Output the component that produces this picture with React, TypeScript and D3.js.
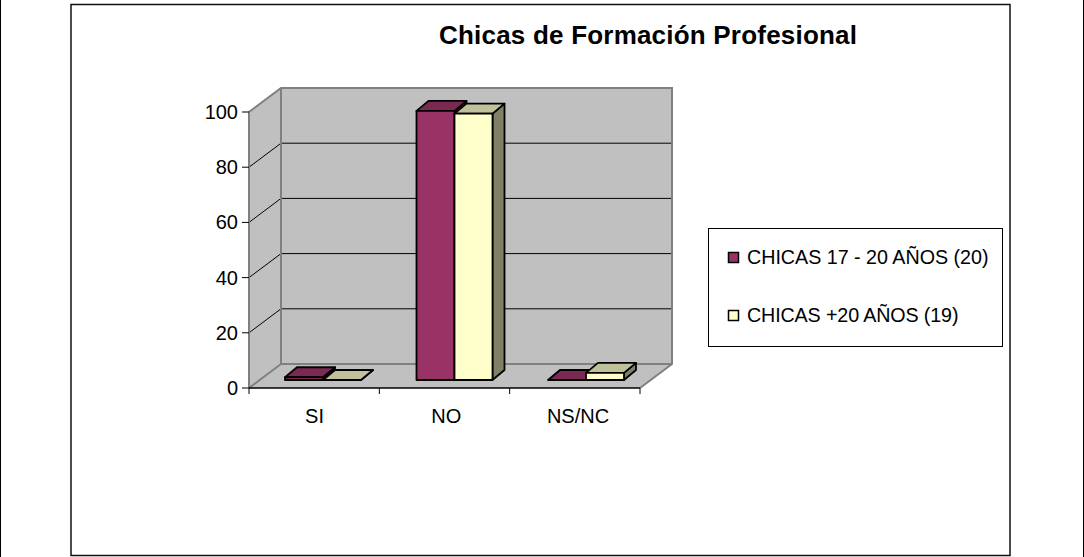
import React from 'react';
import * as d3 from 'd3';

const categories = ['SI', 'NO', 'NS/NC'];
const seriesNames = ['CHICAS 17 - 20 AÑOS (20)', 'CHICAS +20 AÑOS (19)'];
const seriesOne = [1, 97.5, 0];
const seriesTwo = [0, 96.5, 2.6];
const yTicks = [0, 20, 40, 60, 80, 100];

const FONT = '"Liberation Sans", Arial, sans-serif';
const front = { left: 249, right: 640, bottom: 388, top: 112 };
const depth = { x: 32, y: 24 };
const barDepth = { x: 12, y: 10 };
const barLift = { x: 0, y: 8 };
const barWidth = 38;
const legendTextWidths = [241.5, 211.5];

const seriesStyle = [
  { front: '#993366', top: '#7A2952', side: '#5C1F3D' },
  { front: '#FFFFCC', top: '#C0C09A', side: '#808066' },
];

const pts = (list: number[][]) => list.map((p) => p.join(',')).join(' ');

function Bar({ x, yTop, yBase, style }: { x: number; yTop: number; yBase: number; style: any }) {
  const x2 = x + barWidth;
  const dx = barDepth.x;
  const dy = barDepth.y;
  return (
    <g stroke="#000" strokeWidth={1.8} strokeLinejoin="round">
      <polygon fill={style.side} points={pts([[x2, yBase], [x2 + dx, yBase - dy], [x2 + dx, yTop - dy], [x2, yTop]])} />
      <polygon fill={style.top} points={pts([[x, yTop], [x + dx, yTop - dy], [x2 + dx, yTop - dy], [x2, yTop]])} />
      <rect x={x} y={yTop} width={barWidth} height={yBase - yTop} fill={style.front} />
    </g>
  );
}

export default function App() {
  const x = d3.scaleBand().domain(categories).range([front.left, front.right]);
  const labelX = d3.scalePoint().domain(categories).range([314.5, 578]);
  const barCenter = d3.scalePoint().domain(categories).range([323, 586]);
  const y = d3.scaleLinear().domain([0, 100]).range([front.bottom, front.top]);
  const tickX = [...categories.map((c) => x(c) as number), front.right];
  const series = [seriesOne, seriesTwo];
  const backLeft = front.left + depth.x;
  const backRight = front.right + depth.x;

  return (
    <svg width={1084} height={557} style={{ position: 'absolute', left: 0, top: 0 }} fontFamily={FONT}>
      <rect width={1084} height={557} fill="#fff" />
      <line x1={0.5} x2={0.5} y1={0} y2={557} stroke="#000" />
      <line x1={1083.5} x2={1083.5} y1={0} y2={557} stroke="#000" />
      <rect x={71} y={4.5} width={939} height={551} fill="#fff" stroke="#111" strokeWidth={1.5} />

      <text x={439} y={44} fontSize={26} fontWeight="bold" fill="#000" textLength={418} lengthAdjust="spacing">
        Chicas de Formación Profesional
      </text>

      {/* walls and floor */}
      <polygon fill="#C0C0C0" points={pts([[backLeft, y(100) - depth.y], [backRight, y(100) - depth.y], [backRight, y(0) - depth.y], [backLeft, y(0) - depth.y]])} />
      <polygon fill="#C0C0C0" points={pts([[front.left, y(100)], [backLeft, y(100) - depth.y], [backLeft, y(0) - depth.y], [front.left, y(0)]])} />
      <polygon fill="#C0C0C0" points={pts([[front.left, y(0)], [backLeft, y(0) - depth.y], [backRight, y(0) - depth.y], [front.right, y(0)]])} />

      {yTicks.filter((t) => t > 0 && t < 100).map((t) => (
        <g key={t} stroke="#000" strokeWidth={1}>
          <line x1={front.left} y1={y(t)} x2={backLeft} y2={y(t) - depth.y} />
          <line x1={backLeft} y1={y(t) - depth.y} x2={backRight} y2={y(t) - depth.y} />
        </g>
      ))}

      <g fill="none" stroke="#808080" strokeWidth={2}>
        <polyline points={pts([[front.left, y(0)], [front.left, y(100)], [backLeft, y(100) - depth.y], [backRight, y(100) - depth.y], [backRight, y(0) - depth.y], [front.right, y(0)]])} />
        <polyline points={pts([[backLeft, y(100) - depth.y], [backLeft, y(0) - depth.y], [backRight, y(0) - depth.y]])} />
        <line x1={front.left} y1={y(0)} x2={backLeft} y2={y(0) - depth.y} />
      </g>

      {/* bars */}
      {categories.map((c, i) =>
        series.map((values, s) => (
          <Bar
            key={c + s}
            x={(barCenter(c) as number) + (s - 1) * barWidth}
            yTop={y(values[i]) - barLift.y}
            yBase={y(0) - barLift.y}
            style={seriesStyle[s]}
          />
        ))
      )}

      {/* axes */}
      <line x1={front.left} x2={front.right} y1={y(0)} y2={y(0)} stroke="#000" strokeWidth={1.5} />
      {yTicks.map((t) => (
        <g key={t}>
          <line x1={front.left - 7} x2={front.left} y1={y(t)} y2={y(t)} stroke="#000" strokeWidth={1} />
          <text x={238} y={y(t) + 7} textAnchor="end" fontSize={20} fill="#000">{t}</text>
        </g>
      ))}
      {tickX.map((tx) => (
        <line key={tx} x1={tx} x2={tx} y1={y(0)} y2={y(0) + 6} stroke="#000" strokeWidth={1} />
      ))}
      {categories.map((c) => (
        <text key={c} x={labelX(c)} y={y(0) + 35} textAnchor="middle" fontSize={20} fill="#000">{c}</text>
      ))}

      {/* legend */}
      <rect x={708.5} y={228.5} width={294} height={118} fill="#fff" stroke="#000" strokeWidth={1} />
      {seriesNames.map((name, i) => (
        <g key={name}>
          <rect x={728.5} y={252.5 + i * 58} width={10} height={10} fill={seriesStyle[i].front} stroke="#000" strokeWidth={1.5} />
          <text x={747} y={264 + i * 58} fontSize={19.7} fill="#000" textLength={legendTextWidths[i]} lengthAdjust="spacing">{name}</text>
        </g>
      ))}
    </svg>
  );
}
